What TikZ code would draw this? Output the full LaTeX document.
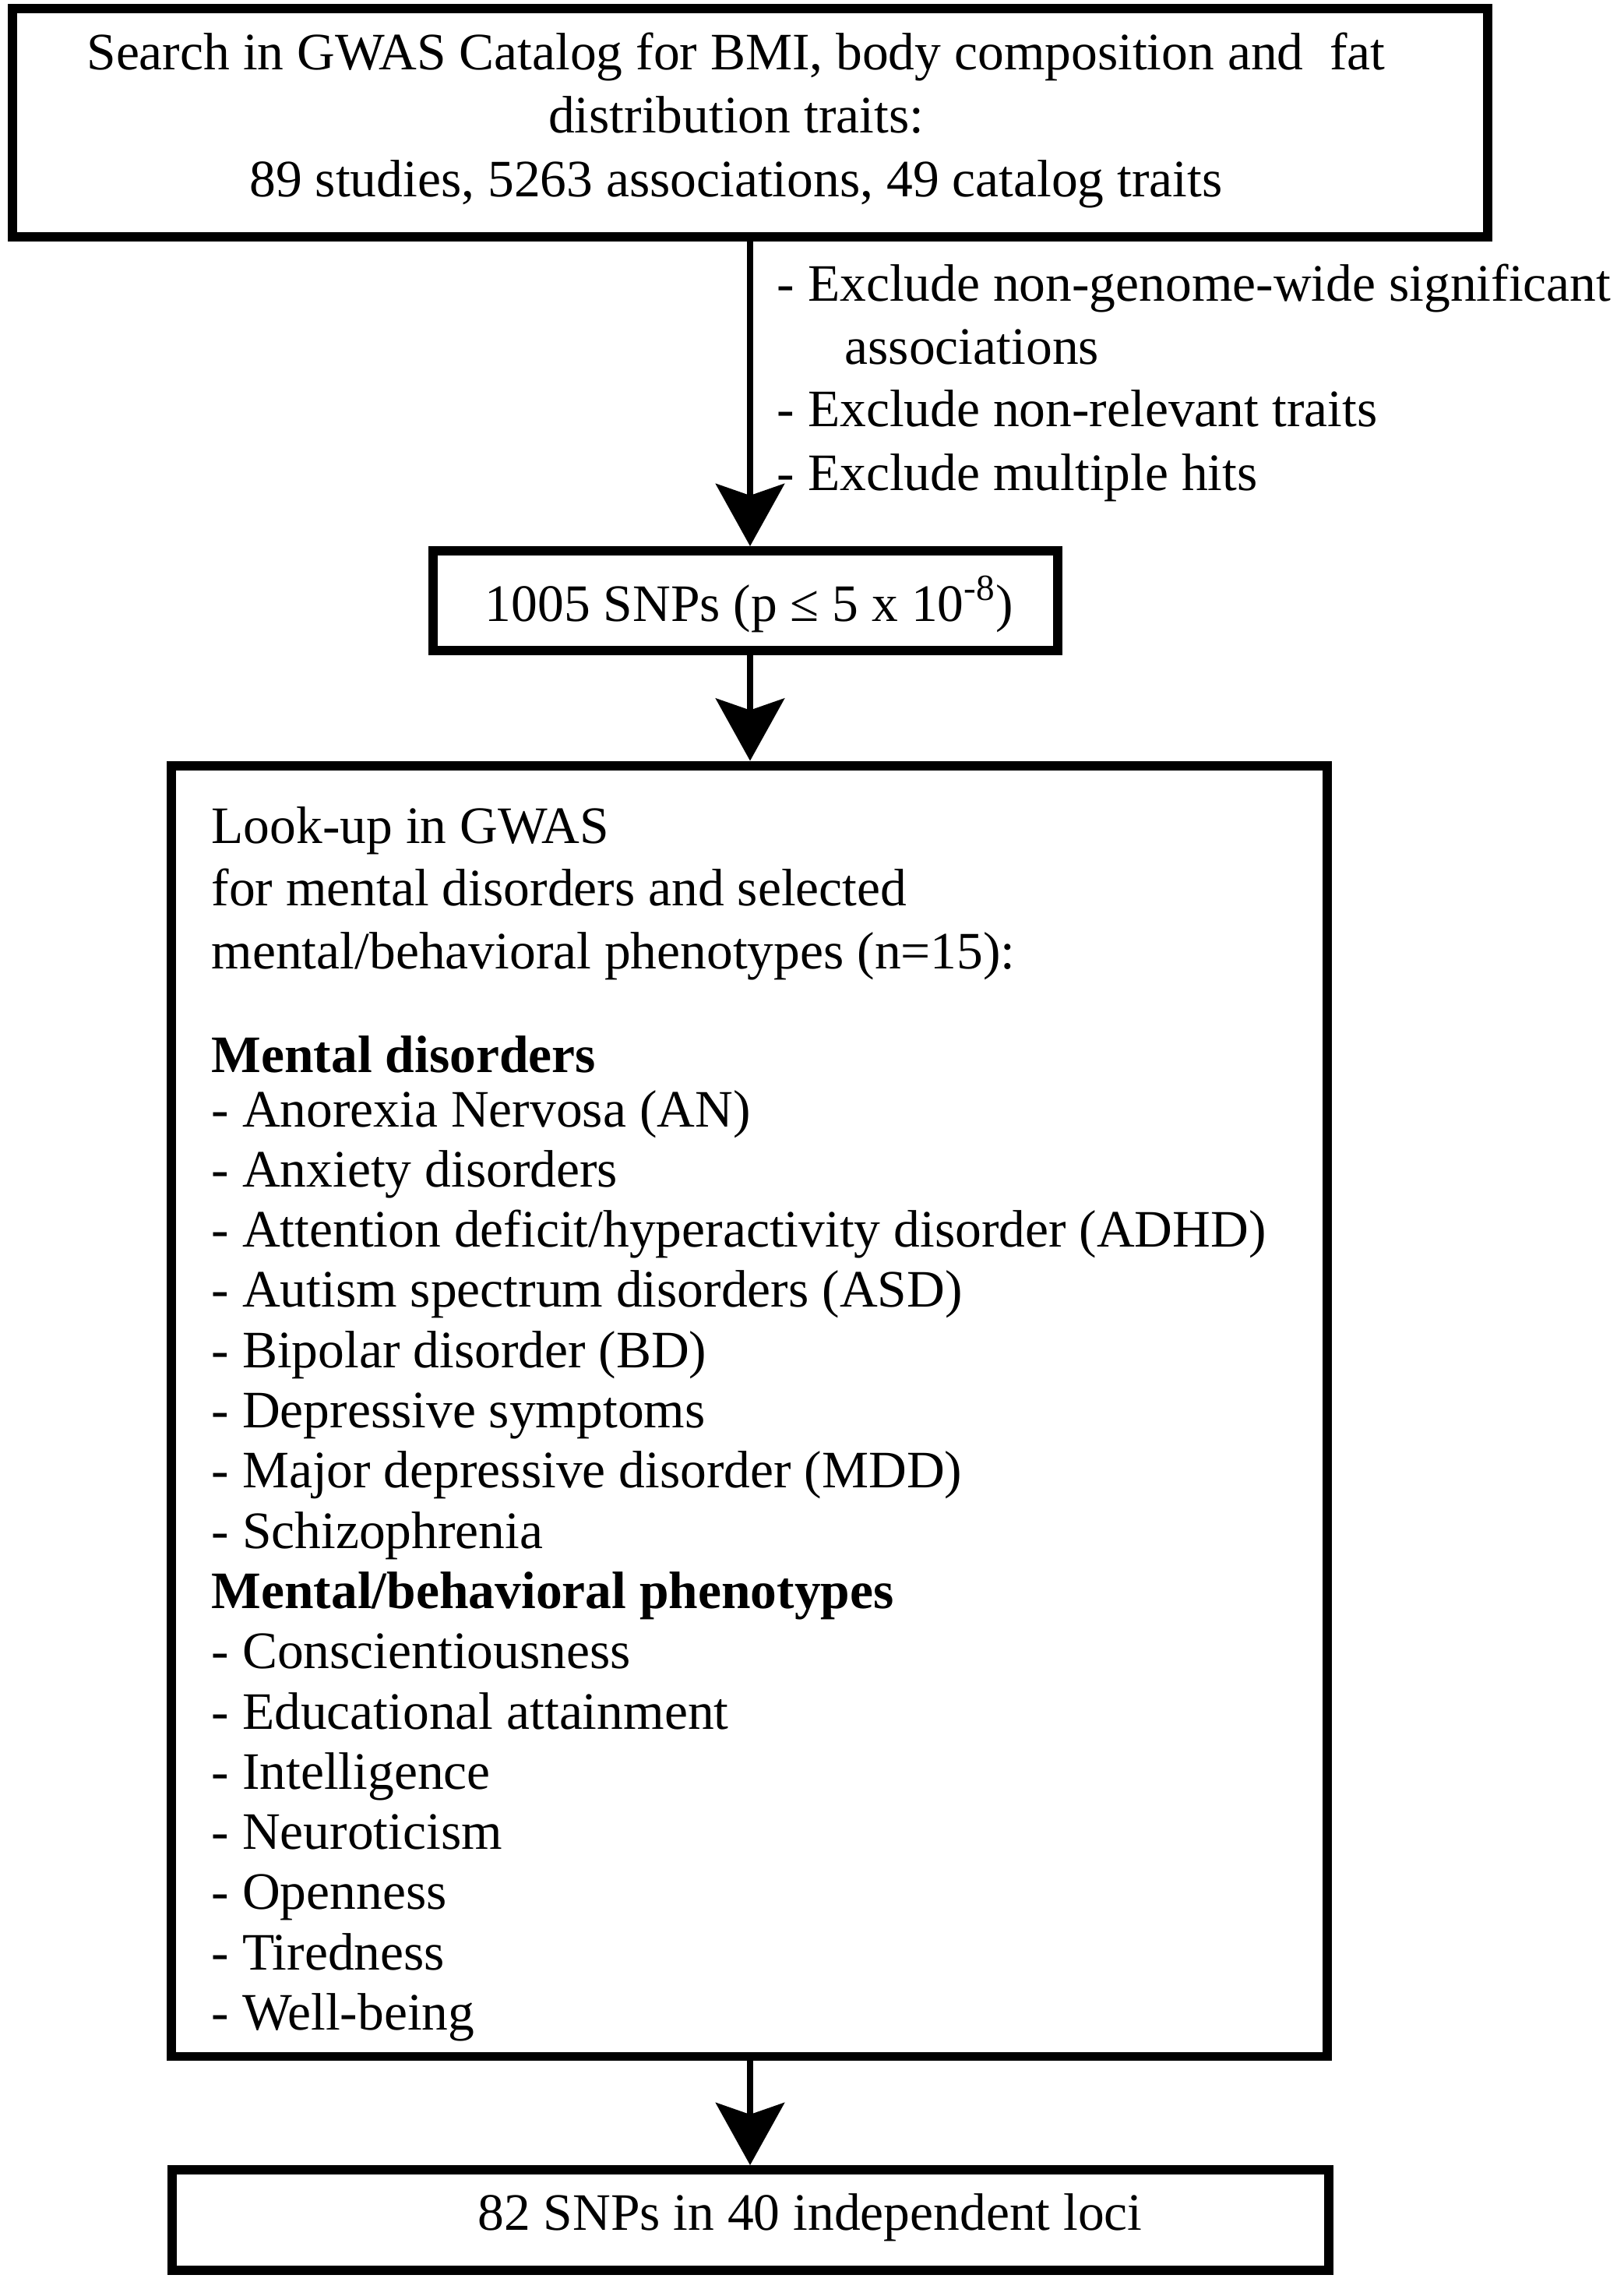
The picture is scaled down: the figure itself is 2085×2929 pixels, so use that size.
\documentclass[tikz,border=0pt]{standalone}
\usepackage{fontspec}
\setmainfont{Liberation Serif}
\usetikzlibrary{arrows.meta}
\usetikzlibrary{positioning}

\begin{document}
\begin{tikzpicture}[x=0.01cm, y=-0.01cm,
    box/.style={draw, line width=3.4pt, inner sep=0pt},
    txt/.style={inner sep=0pt, font=\fontsize{19.2}{23}\selectfont},
    flow/.style={line width=2.3pt, -{Stealth[length=0.8cm, width=0.88cm, inset=0.15cm]}}]

    \useasboundingbox (0,0) rectangle (2085,2929);

    % Boxes
    \node[box, minimum width=18.92cm, minimum height=2.93cm] (search) at (963,157.5) {};
    \node[box, minimum width=8.02cm, minimum height=1.28cm] (snps) at (957,771) {};
    \node[box, minimum width=14.84cm, minimum height=16.56cm] (lookup) at (962,1811) {};
    \node[box, minimum width=14.85cm, minimum height=1.29cm] (loci) at (963.5,2849.5) {};

    % Search text
    \foreach \t [count=\i] in {{Search in GWAS Catalog for BMI, body composition and\ \ fat}, {distribution traits:}, {89 studies, 5263 associations, 49 catalog traits}}
        \node[txt, anchor=base] (s\i) at (945,{89+81.5*(\i-1)}) {\t};

    % Exclusion criteria
    \node[txt, anchor=base west] (ex1) at (997,386) {- Exclude non-genome-wide significant};
    \node[txt, anchor=base west] (ex2) at (1084,467) {associations};
    \node[txt, anchor=base west] (ex3) at (997,547) {- Exclude non-relevant traits};
    \node[txt, anchor=base west] (ex4) at (997,629) {- Exclude multiple hits};

    % SNP counts
    \node[txt, anchor=base] (snpst) at (962,797) {1005 SNPs (p ≤ 5 x 10\textsuperscript{-8})};
    \node[txt, anchor=base] (locit) at (1040,2862) {82 SNPs in 40 independent loci};

    % Look-up text
    \foreach \t [count=\i] in {Look-up in GWAS, for mental disorders and selected, {mental/behavioral phenotypes (n=15):}}
        \node[txt, anchor=base west] (h\i) at (271,{1082+80.5*(\i-1)}) {\t};
    \node[txt, anchor=base west, font=\fontsize{19.2}{23}\selectfont\bfseries] (md) at (271,1376) {Mental disorders};
    \foreach \t [count=\i] in {- Anorexia Nervosa (AN), - Anxiety disorders,
        - Attention deficit/hyperactivity disorder (ADHD), - Autism spectrum disorders (ASD),
        - Bipolar disorder (BD), - Depressive symptoms, - Major depressive disorder (MDD),
        - Schizophrenia, {\bfseries Mental/behavioral phenotypes}, - Conscientiousness,
        - Educational attainment, - Intelligence, - Neuroticism, - Openness,
        - Tiredness, - Well-being}
        \node[txt, anchor=base west] (d\i) at (271,{1446+77.3*(\i-1)}) {\t};

    % Arrows
    \draw[flow] (search.south) -- (search.south |- snps.north);
    \draw[flow] (search.south |- snps.south) -- (search.south |- lookup.north);
    \draw[flow] (search.south |- lookup.south) -- (search.south |- loci.north);

\end{tikzpicture}
\end{document}
